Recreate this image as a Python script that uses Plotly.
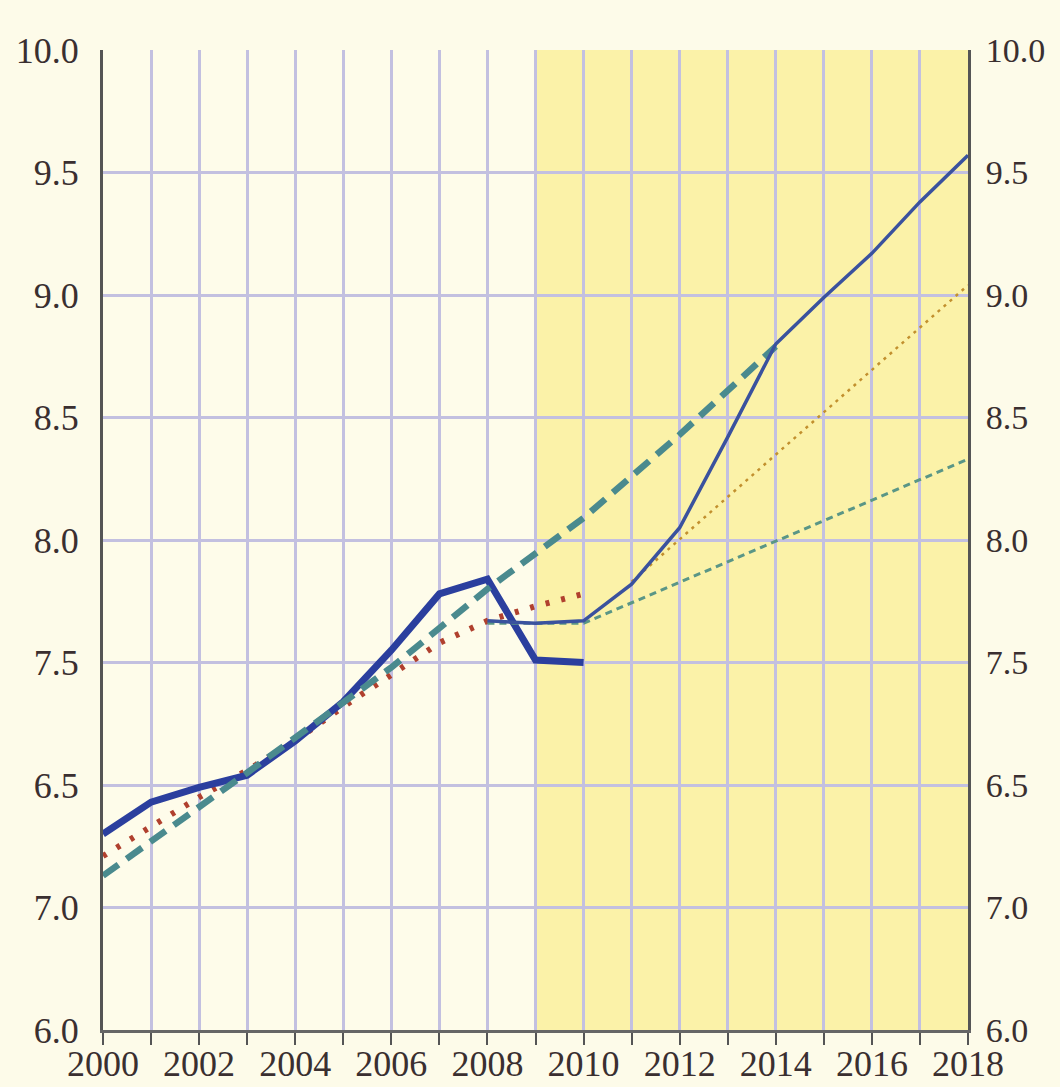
import plotly.graph_objects as go

# ---- data ----
years_actual = [2000, 2001, 2002, 2003, 2004, 2005, 2006, 2007, 2008, 2009, 2010]
actual = [6.80, 6.93, 6.99, 7.04, 7.18, 7.34, 7.55, 7.78, 7.84, 7.51, 7.50]

years_red = [2000, 2001, 2002, 2003, 2004, 2005, 2006, 2007, 2008, 2009, 2010]
red_dotted = [6.71, 6.83, 6.95, 7.06, 7.18, 7.32, 7.45, 7.58, 7.67, 7.73, 7.78]

years_trend = [2000, 2003, 2006, 2008, 2010, 2012, 2014]
trend = [6.63, 7.05, 7.48, 7.80, 8.09, 8.43, 8.79]

years_fc = [2008, 2009, 2010, 2011, 2012, 2013, 2014, 2015, 2016, 2017, 2018]
forecast = [7.67, 7.66, 7.67, 7.82, 8.05, 8.42, 8.80, 8.99, 9.17, 9.38, 9.57]

years_orange = [2011, 2018]
orange = [7.83, 9.04]

years_low = [2008, 2010, 2018]
low = [7.66, 7.66, 8.33]

shade_start, shade_end = 2009, 2018

tick_vals = [6.0, 6.5, 7.0, 7.5, 8.0, 8.5, 9.0, 9.5, 10.0]
tick_text = ["6.0", "7.0", "6.5", "7.5", "8.0", "8.5", "9.0", "9.5", "10.0"]
x_tick_vals = list(range(2000, 2019, 2))
x_tick_text = [str(y) for y in x_tick_vals]

# ---- figure ----
fig = go.Figure()

fig.add_trace(go.Scatter(x=years_red, y=red_dotted, mode="lines",
                         line=dict(color="#b0402e", width=6, dash="4px,12px"),
                         showlegend=False))
fig.add_trace(go.Scatter(x=years_actual, y=actual, mode="lines",
                         line=dict(color="#2b3f9e", width=7),
                         showlegend=False))
fig.add_trace(go.Scatter(x=years_trend, y=trend, mode="lines",
                         line=dict(color="#4a8a8e", width=6.5, dash="19px,10px"),
                         showlegend=False))
fig.add_trace(go.Scatter(x=years_orange, y=orange, mode="lines",
                         line=dict(color="#c2902e", width=2.5, dash="3px,5px"),
                         showlegend=False))
fig.add_trace(go.Scatter(x=years_low, y=low, mode="lines",
                         line=dict(color="#5a9686", width=3, dash="7px,5px"),
                         showlegend=False))
fig.add_trace(go.Scatter(x=years_fc, y=forecast, mode="lines",
                         line=dict(color="#3a529e", width=3.5),
                         showlegend=False))
# invisible trace to show the right-hand axis
fig.add_trace(go.Scatter(x=[years_fc[0]], y=[forecast[0]], yaxis="y2", mode="lines",
                         line=dict(width=0), hoverinfo="skip", showlegend=False))

fig.add_shape(type="rect", xref="x", yref="paper", x0=shade_start, x1=shade_end,
              y0=0, y1=1, fillcolor="#fbf2a8", line=dict(width=0), layer="below")

font_ax = dict(family="Liberation Serif", size=36, color="#3a2f30")
font_r = dict(family="Liberation Serif", size=34, color="#3a2f30")
font_x = dict(family="Liberation Serif", size=36, color="#3a2f30")

fig.update_layout(
    width=1060, height=1087,
    margin=dict(l=103, r=92, t=50, b=57),
    paper_bgcolor="#fdfbe9",
    plot_bgcolor="#fefcea",
    xaxis=dict(range=[2000, 2018], tickvals=x_tick_vals, ticktext=x_tick_text,
               tickfont=font_x, showgrid=False, automargin=False,
               showline=True, linecolor="#666666", linewidth=3,
               ticks="outside", ticklen=12, tickwidth=2, tickcolor="#555555",
               minor=dict(dtick=1, ticks="outside", ticklen=12, tickwidth=2,
                          tickcolor="#555555", showgrid=True,
                          gridcolor="#c3c0e0", gridwidth=2.5),
               gridcolor="#c3c0e0", zeroline=False, ticklabelstandoff=-12),
    yaxis=dict(range=[6, 10], tickvals=tick_vals, ticktext=tick_text,
               tickfont=font_ax, showgrid=True, gridcolor="#c3c0e0", gridwidth=2.5,
               showline=True, linecolor="#555555", linewidth=3, automargin=False,
               ticks="", zeroline=False, ticklabelstandoff=14),
    yaxis2=dict(range=[6, 10], tickvals=tick_vals, ticktext=tick_text,
                tickfont=font_r, overlaying="y", side="right", showgrid=False,
                showline=True, linecolor="#555555", linewidth=3, automargin=False,
                ticks="", zeroline=False, ticklabelstandoff=8),
)

post = "document.body.style.margin='0';document.body.style.background='#fdfbe9';"
fig.write_html("out.html", post_script=post, config={"displayModeBar": False})
